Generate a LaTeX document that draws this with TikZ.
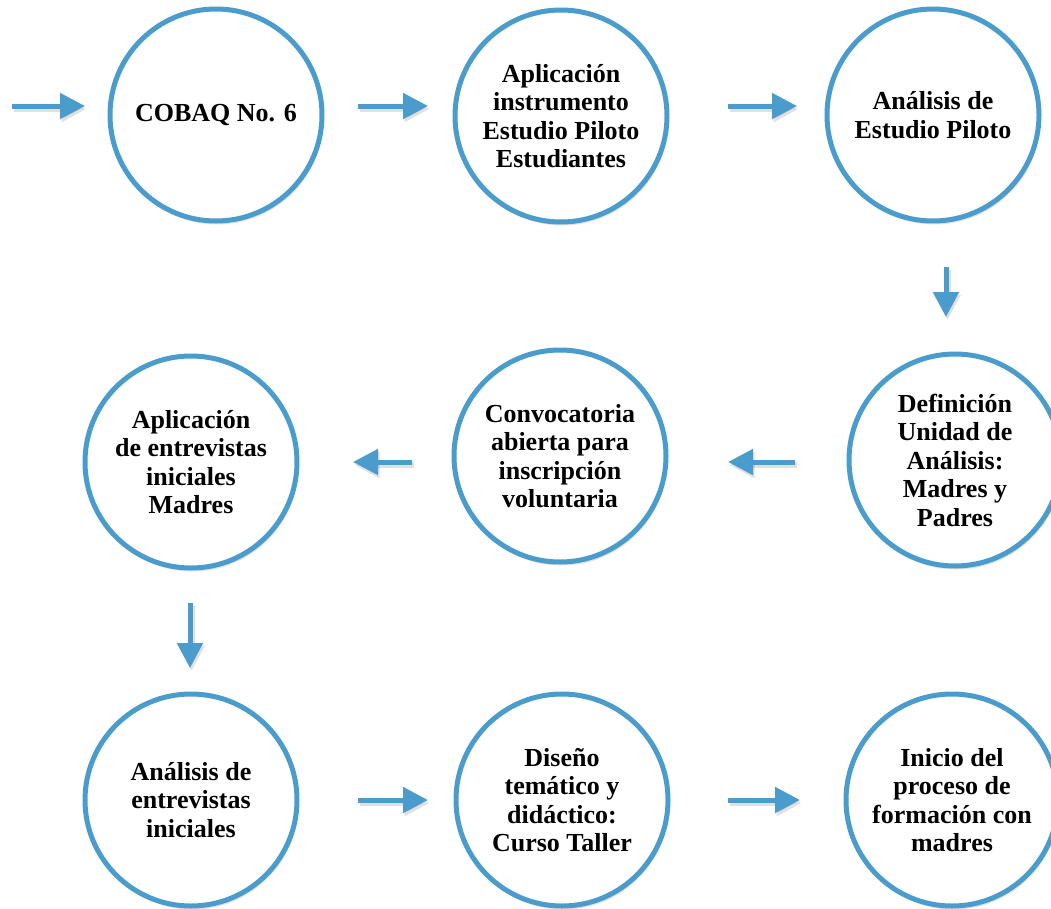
\documentclass[tikz,border=0pt]{standalone}
\usepackage{fontspec}
\setmainfont{Liberation Serif}
\usetikzlibrary{arrows.meta,shadows}
\definecolor{flowblue}{RGB}{74,156,204}
\tikzset{
  stage/.style={circle, draw=flowblue, line width=5pt, fill=white,
    minimum size=212pt, inner sep=0pt, align=center,
    font=\bfseries\fontsize{26}{28.5}\selectfont,
    drop shadow={opacity=0.22, shadow xshift=1.5pt, shadow yshift=-3.5pt}},
  flow/.style={draw=flowblue, line width=5pt,
    -{Triangle[length=25pt,width=25pt]},
    preaction={draw=black, opacity=0.12, line width=6pt, transform canvas={xshift=1.5pt,yshift=-3pt}}}
}
\begin{document}
\begin{tikzpicture}[x=1pt,y=-1pt]
\useasboundingbox (0,0) rectangle (1051,908);
\clip (0,0) rectangle (1051,908);
\fill[white] (0,0) rectangle (1051,908);

\node[stage] (c1) at (216,115) {COBAQ No. 6};
\node[stage] (c2) at (561,116) {Aplicación\\instrumento\\Estudio Piloto\\Estudiantes};
\node[stage] (c3) at (933,115) {Análisis de\\Estudio Piloto};
\node[stage] (c4) at (955,460) {Definición\\Unidad de\\Análisis:\\Madres y\\Padres};
\node[stage] (c5) at (560,456) {Convocatoria\\abierta para\\inscripción\\voluntaria};
\node[stage] (c6) at (191,462) {Aplicación\\de entrevistas\\iniciales\\Madres};
\node[stage] (c7) at (191,800) {Análisis de\\entrevistas\\iniciales};
\node[stage] (c8) at (562,800) {Diseño\\temático y\\didáctico:\\Curso Taller};
\node[stage] (c9) at (952,800) {Inicio del\\proceso de\\formación con\\madres};

\coordinate (start) at (12,106);

\draw[flow, shorten >=22.5pt] (start) -- ([yshift=9pt]c1.west);
\draw[flow, shorten <=33.5pt, shorten >=24.5pt] ([yshift=9pt]c1.east) -- ([yshift=10pt]c2.west);
\draw[flow, shorten <=58.5pt, shorten >=27.5pt] ([yshift=10pt]c2.east) -- ([yshift=9pt]c3.west);
\draw[flow, shorten <=43.5pt, shorten >=34.5pt] ([xshift=13pt]c3.south) -- ([xshift=-9pt]c4.north);
\draw[flow, shorten <=51.5pt, shorten >=59.5pt] ([yshift=-2pt]c4.west) -- ([yshift=-6pt]c5.east);
\draw[flow, shorten <=39.5pt, shorten >=53.5pt] ([yshift=-6pt]c5.west) -- ([yshift=0pt]c6.east);
\draw[flow, shorten <=32.5pt, shorten >=23.5pt] ([xshift=-1pt]c6.south) -- ([xshift=-1pt]c7.north);
\draw[flow, shorten <=58.5pt, shorten >=25.5pt] (c7.east) -- (c8.west);
\draw[flow, shorten <=57.5pt, shorten >=43.5pt] (c8.east) -- (c9.west);
\end{tikzpicture}
\end{document}
